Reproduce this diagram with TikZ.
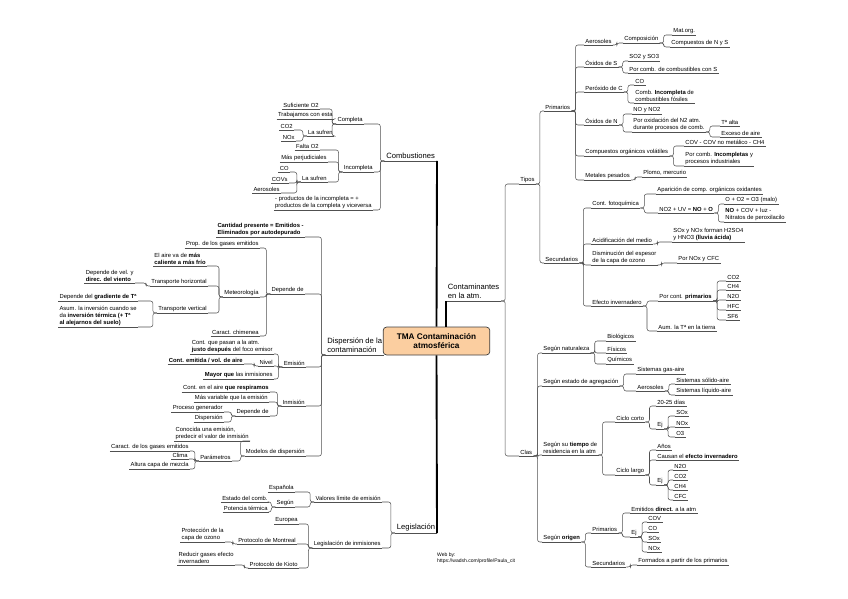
\documentclass[tikz,border=0pt]{standalone}
\usepackage{fontspec}
\setmainfont{Liberation Sans}
\definecolor{linkc}{RGB}{80,80,80}
\definecolor{rootfill}{RGB}{251,206,160}
\tikzset{
  uline/.style={draw=linkc,line width=.45pt},
  topic/.style={font=\fontsize{5}{5.8}\selectfont,inner sep=1pt,align=left,
    append after command={(\tikzlastnode.south west) edge[uline] (\tikzlastnode.south east)}},
  rt/.style={topic,anchor=south west},
  lt/.style={topic,anchor=south east},
  branch/.style={font=\fontsize{6.5}{7.8}\selectfont,inner sep=1.5pt},
  rl/.style={draw=linkc,line width=.45pt,rounded corners=2pt,to path={-- ++(4,0) |- (\tikztotarget)}},
  ll/.style={draw=linkc,line width=.45pt,rounded corners=2pt,to path={-- ++(-4,0) |- (\tikztotarget)}},
  trunk/.style={draw=black,line width=1.6pt},
  root/.style={draw=black!75,fill=rootfill,rounded corners=3pt,line width=.6pt,
    minimum width=3.2cm,minimum height=.84cm,align=center,font=\fontsize{7}{8.4}\selectfont\bfseries}
}
\begin{document}
\begin{tikzpicture}[x=0.03cm,y=-0.03cm]
\useasboundingbox (0,0) rectangle (848,599);
\node[root] (center) at (436.5,341) {TMA Contaminación\\atmosférica};
% ramas principales
\node[rt,branch] (cont) at (446,301) {Contaminantes\\en la atm.};
\node[lt,branch] (comb) at (437,161) {Combustiones};
\node[lt,branch] (disp) at (384,355) {Dispersión de la\\contaminación};
\node[lt,branch] (legis) at (437,533) {Legislación};
\draw[trunk] (center.north) -- (comb.south east);
\draw[trunk] (center.south) -- (legis.south east);
\draw[trunk] (center.north -| cont.south west) -- (cont.south west);
\draw[uline,line width=.8pt] (disp.south east) -- (center.west |- disp.south east);
% contaminantes
\node[rt] (tipos) at (519,184) {Tipos};
\node[rt] (clas) at (519,456) {Clas};
\node[rt] (prim) at (544,111) {Primarios};
\node[rt] (aer1) at (584,45) {Aerosoles};
\node[rt] (compo) at (623,43) {Composición};
\node[rt] (matorg) at (672,35) {Mat.org.};
\node[rt] (cnys) at (670,47) {Compuestos de N y S};
\node[rt] (oxs) at (584,67) {Óxidos de S};
\node[rt] (so2) at (628,61) {SO2 y SO3};
\node[rt] (porcs) at (628,73) {Por comb. de combustibles con S};
\node[rt] (perc) at (584,92) {Peróxido de C};
\node[rt] (co1) at (634,85) {CO};
\node[rt] (combinc) at (634,103) {Comb. \textbf{Incompleta} de\\combustibles fósiles};
\node[rt] (oxn) at (584,125) {Óxidos de N};
\node[rt] (nono2) at (632,114) {NO y NO2};
\node[rt] (poroxn) at (632,132) {Por oxidación del N2 atm.\\durante procesos de comb.};
\node[rt] (talta) at (720,126) {Tª alta};
\node[rt] (exceso) at (720,137) {Exceso de aire};
\node[rt] (cov) at (584,156) {Compuestos orgánicos volátiles};
\node[rt] (covnm) at (684,146) {COV - COV no metálico - CH4};
\node[rt] (porcombinc) at (684,166) {Por comb. \textbf{Incompletas} y\\procesos industriales};
\node[rt] (metales) at (584,180) {Metales pesados};
\node[rt] (plomo) at (642,177) {Plomo, mercurio};
\node[rt] (sec) at (544,263) {Secundarios};
\node[rt] (fotoq) at (591,208) {Cont. fotoquímica};
\node[rt] (aparic) at (656,194) {Aparición de comp. orgánicos oxidantes};
\node[rt] (no2uv) at (658,213) {NO2 + UV = \textbf{NO} + \textbf{O}};
\node[rt] (o3malo) at (724,204) {O + O2 = O3 (malo)};
\node[rt] (nocov) at (724,222) {\textbf{NO} + COV + luz -\\Nitratos de peroxilacilo};
\node[rt] (acid) at (591,244) {Acidificación del medio};
\node[rt] (sox) at (672,242) {SOx y NOx forman H2SO4\\y HNO3 \textbf{(lluvia ácida)}};
\node[rt] (dismin) at (591,265) {Disminución del espesor\\de la capa de ozono};
\node[rt] (pornox) at (677,263) {Por NOx y CFC};
\node[rt] (efecto) at (591,306) {Efecto invernadero};
\node[rt] (porcont) at (658,301) {Por cont. \textbf{primarios}};
\node[rt] (co2a) at (726,281) {CO2};
\node[rt] (ch4a) at (726,290) {CH4};
\node[rt] (n2oa) at (726,300) {N2O};
\node[rt] (hfc) at (726,310) {HFC};
\node[rt] (sf6) at (726,320) {SF6};
\node[rt] (aum) at (657,331) {Aum. la Tª en la tierra};
\node[rt] (nat) at (542,353) {Según naturaleza};
\node[rt] (bio) at (606,341) {Biológicos};
\node[rt] (fis) at (606,353) {Físicos};
\node[rt] (qui) at (606,364) {Químicos};
\node[rt] (estado) at (542,386) {Según estado de agregación};
\node[rt] (gasaire) at (636,374) {Sistemas gas-aire};
\node[rt] (aer2) at (636,391) {Aerosoles};
\node[rt] (solido) at (675,384) {Sistemas sólido-aire};
\node[rt] (liquido) at (675,395) {Sistemas líquido-aire};
\node[rt] (tiempo) at (542,455) {Según su \textbf{tiempo} de\\residencia en la atm};
\node[rt] (corto) at (615,422) {Ciclo corto};
\node[rt] (dias) at (656,406) {20-25 días};
\node[rt] (ej1) at (656,429) {Ej};
\node[rt] (sox1) at (675,416) {SOx};
\node[rt] (nox1) at (675,427) {NOx};
\node[rt] (o3) at (675,437) {O3};
\node[rt] (largo) at (615,475) {Ciclo largo};
\node[rt] (anos) at (656,450) {Años};
\node[rt] (causan) at (656,460) {Causan el \textbf{efecto invernadero}};
\node[rt] (ej2) at (656,485) {Ej};
\node[rt] (n2ob) at (673,470) {N2O};
\node[rt] (co2b) at (673,480) {CO2};
\node[rt] (ch4b) at (673,490) {CH4};
\node[rt] (cfc) at (673,500) {CFC};
\node[rt] (origen) at (542,542) {Según \textbf{origen}};
\node[rt] (prim2) at (591,533) {Primarios};
\node[rt] (emit) at (630,513) {Emitidos \textbf{direct.} a la atm};
\node[rt] (ej3) at (630,537) {Ej};
\node[rt] (covb) at (647,522) {COV};
\node[rt] (cob) at (647,532) {CO};
\node[rt] (soxb) at (647,542) {SOx};
\node[rt] (noxb) at (647,552) {NOx};
\node[rt] (sec2) at (591,567) {Secundarios};
\node[rt] (formados) at (637,565) {Formados a partir de los primarios};
\path (cont.south east) edge[rl] (tipos.south west) edge[rl] (clas.south west);
\path (tipos.south east) edge[rl] (prim.south west) edge[rl] (sec.south west);
\path (prim.south east) edge[rl] (aer1.south west) edge[rl] (oxs.south west) edge[rl] (perc.south west)
  edge[rl] (oxn.south west) edge[rl] (cov.south west) edge[rl] (metales.south west);
\path (aer1.south east) edge[rl] (compo.south west);
\path (compo.south east) edge[rl] (matorg.south west) edge[rl] (cnys.south west);
\path (oxs.south east) edge[rl] (so2.south west) edge[rl] (porcs.south west);
\path (perc.south east) edge[rl] (co1.south west) edge[rl] (combinc.south west);
\path (oxn.south east) edge[rl] (nono2.south west) edge[rl] (poroxn.south west);
\path (poroxn.south east) edge[rl] (talta.south west) edge[rl] (exceso.south west);
\path (cov.south east) edge[rl] (covnm.south west) edge[rl] (porcombinc.south west);
\path (metales.south east) edge[rl] (plomo.south west);
\path (sec.south east) edge[rl] (fotoq.south west) edge[rl] (acid.south west) edge[rl] (dismin.south west)
  edge[rl] (efecto.south west);
\path (fotoq.south east) edge[rl] (aparic.south west) edge[rl] (no2uv.south west);
\path (no2uv.south east) edge[rl] (o3malo.south west) edge[rl] (nocov.south west);
\path (acid.south east) edge[rl] (sox.south west);
\path (dismin.south east) edge[rl] (pornox.south west);
\path (efecto.south east) edge[rl] (porcont.south west) edge[rl] (aum.south west);
\path (porcont.south east) edge[rl] (co2a.south west) edge[rl] (ch4a.south west) edge[rl] (n2oa.south west)
  edge[rl] (hfc.south west) edge[rl] (sf6.south west);
\path (clas.south east) edge[rl] (nat.south west) edge[rl] (estado.south west) edge[rl] (tiempo.south west)
  edge[rl] (origen.south west);
\path (nat.south east) edge[rl] (bio.south west) edge[rl] (fis.south west) edge[rl] (qui.south west);
\path (estado.south east) edge[rl] (gasaire.south west) edge[rl] (aer2.south west);
\path (aer2.south east) edge[rl] (solido.south west) edge[rl] (liquido.south west);
\path (tiempo.south east) edge[rl] (corto.south west) edge[rl] (largo.south west);
\path (corto.south east) edge[rl] (dias.south west) edge[rl] (ej1.south west);
\path (ej1.south east) edge[rl] (sox1.south west) edge[rl] (nox1.south west) edge[rl] (o3.south west);
\path (largo.south east) edge[rl] (anos.south west) edge[rl] (causan.south west) edge[rl] (ej2.south west);
\path (ej2.south east) edge[rl] (n2ob.south west) edge[rl] (co2b.south west) edge[rl] (ch4b.south west)
  edge[rl] (cfc.south west);
\path (origen.south east) edge[rl] (prim2.south west) edge[rl] (sec2.south west);
\path (prim2.south east) edge[rl] (emit.south west) edge[rl] (ej3.south west);
\path (ej3.south east) edge[rl] (covb.south west) edge[rl] (cob.south west) edge[rl] (soxb.south west)
  edge[rl] (noxb.south west);
\path (sec2.south east) edge[rl] (formados.south west);
% combustiones
\node[lt] (completa) at (364,124) {Completa};
\node[lt] (suf) at (320,109) {Suficiente O2};
\node[lt] (trab) at (334,119) {Trabajamos con esta};
\node[lt] (lasuf1) at (334,136) {La sufren};
\node[lt] (co2l) at (294,130) {CO2};
\node[lt] (noxl) at (296,141) {NOx};
\node[lt] (incomp) at (374,172) {Incompleta};
\node[lt] (falta) at (320,150) {Falta O2};
\node[lt] (masper) at (328,162) {Más perjudiciales};
\node[lt] (lasuf2) at (328,182) {La sufren};
\node[lt] (col) at (290,172) {CO};
\node[lt] (covs) at (289,183) {COVs};
\node[lt] (aerl) at (281,193) {Aerosoles};
\node[lt] (prodinc) at (373,210) {- productos de la incompleta = +\\productos de la completa y viceversa};
\path (comb.south west) edge[ll] (completa.south east) edge[ll] (incomp.south east) edge[ll] (prodinc.south east);
\path (completa.south west) edge[ll] (suf.south east) edge[ll] (trab.south east) edge[ll] (lasuf1.south east);
\path (lasuf1.south west) edge[ll] (co2l.south east) edge[ll] (noxl.south east);
\path (incomp.south west) edge[ll] (falta.south east) edge[ll] (masper.south east) edge[ll] (lasuf2.south east);
\path (lasuf2.south west) edge[ll] (col.south east) edge[ll] (covs.south east) edge[ll] (aerl.south east);
% dispersion
\node[lt] (cant) at (305,237) {\textbf{Cantidad presente = Emitidos -}\\\textbf{Eliminados por autodepurado}};
\node[lt] (dep1) at (305,294) {Depende de};
\node[lt] (prop) at (260,248) {Prop. de los gases emitidos};
\node[lt] (meteo) at (260,297) {Meteorología};
\node[lt] (aire) at (207,266) {El aire va de \textbf{más}\\\textbf{caliente a más frío}};
\node[lt] (thor) at (208,286) {Transporte horizontal};
\node[lt] (dep2) at (135,283) {Depende de vel. y\\\textbf{direc. del viento}};
\node[lt] (tver) at (208,313) {Transporte vertical};
\node[lt] (gradiente) at (138,301) {Depende del \textbf{gradiente de Tª}};
\node[lt] (asum) at (138,327) {Asum. la inversión cuando se\\da \textbf{inversión térmica (+ Tª}\\\textbf{al alejarnos del suelo)}};
\node[lt] (chim) at (260,336) {Caract. chimenea};
\node[lt] (emision) at (306,367) {Emisión};
\node[lt] (contpasan) at (274,354) {Cont. que pasan a la atm.\\\textbf{justo después} del foco emisor};
\node[lt] (nivel) at (274,366) {Nivel};
\node[lt] (contemit) at (244,364) {\textbf{Cont. emitida / vol. de aire}};
\node[lt] (mayor) at (274,379) {\textbf{Mayor que} las inmisiones};
\node[lt] (inmision) at (306,406) {Inmisión};
\node[lt] (contaire) at (270,392) {Cont. en el aire \textbf{que respiramos}};
\node[lt] (masvar) at (269,402) {Más variable que la emisión};
\node[lt] (dep3) at (270,416) {Depende de};
\node[lt] (proceso) at (224,412) {Proceso generador};
\node[lt] (dispb) at (224,422) {Dispersión};
\node[lt] (modelos) at (306,456) {Modelos de dispersión};
\node[lt] (conocida) at (250,441) {Conocida una emisión,\\predecir el valor de inmisión};
\node[lt] (param) at (232,461) {Parámetros};
\node[lt] (caract) at (190,451) {Caract. de los gases emitidos};
\node[lt] (clima) at (189,459) {Clima};
\node[lt] (altura) at (190,469) {Altura capa de mezcla};
\path (disp.south west) edge[ll] (cant.south east) edge[ll] (dep1.south east) edge[ll] (emision.south east)
  edge[ll] (inmision.south east) edge[ll] (modelos.south east);
\path (dep1.south west) edge[ll] (prop.south east) edge[ll] (meteo.south east) edge[ll] (chim.south east);
\path (meteo.south west) edge[ll] (aire.south east) edge[ll] (thor.south east) edge[ll] (tver.south east);
\path (thor.south west) edge[ll] (dep2.south east);
\path (tver.south west) edge[ll] (gradiente.south east) edge[ll] (asum.south east);
\path (emision.south west) edge[ll] (contpasan.south east) edge[ll] (nivel.south east) edge[ll] (mayor.south east);
\path (nivel.south west) edge[ll] (contemit.south east);
\path (inmision.south west) edge[ll] (contaire.south east) edge[ll] (masvar.south east) edge[ll] (dep3.south east);
\path (dep3.south west) edge[ll] (proceso.south east) edge[ll] (dispb.south east);
\path (modelos.south west) edge[ll] (conocida.south east) edge[ll] (param.south east);
\path (param.south west) edge[ll] (caract.south east) edge[ll] (clima.south east) edge[ll] (altura.south east);
% legislacion
\node[lt] (valores) at (382,502) {Valores límite de emisión};
\node[lt] (espanola) at (295,492) {Española};
\node[lt] (segun) at (295,507) {Según};
\node[lt] (estado2) at (269,502) {Estado del comb.};
\node[lt] (potencia) at (269,512) {Potencia térmica};
\node[lt] (leginm) at (382,548) {Legislación de inmisiones};
\node[lt] (europea) at (299,524) {Europea};
\node[lt] (montreal) at (297,544) {Protocolo de Montreal};
\node[lt] (protec) at (225,542) {Protección de la\\capa de ozono};
\node[lt] (kioto) at (299,568) {Protocolo de Kioto};
\node[lt] (reducir) at (235,565) {Reducir gases efecto\\invernadero};
\path (legis.south west) edge[ll] (valores.south east) edge[ll] (leginm.south east);
\path (valores.south west) edge[ll] (espanola.south east) edge[ll] (segun.south east);
\path (segun.south west) edge[ll] (estado2.south east) edge[ll] (potencia.south east);
\path (leginm.south west) edge[ll] (europea.south east) edge[ll] (montreal.south east) edge[ll] (kioto.south east);
\path (montreal.south west) edge[ll] (protec.south east);
\path (kioto.south west) edge[ll] (reducir.south east);
\node[anchor=north west,align=left,inner sep=0pt,font=\fontsize{4.3}{5}\selectfont] (web) at (437,553)
  {Web by:\\https://wadsh.com/profile/Paula\_cit};
\end{tikzpicture}
\end{document}
